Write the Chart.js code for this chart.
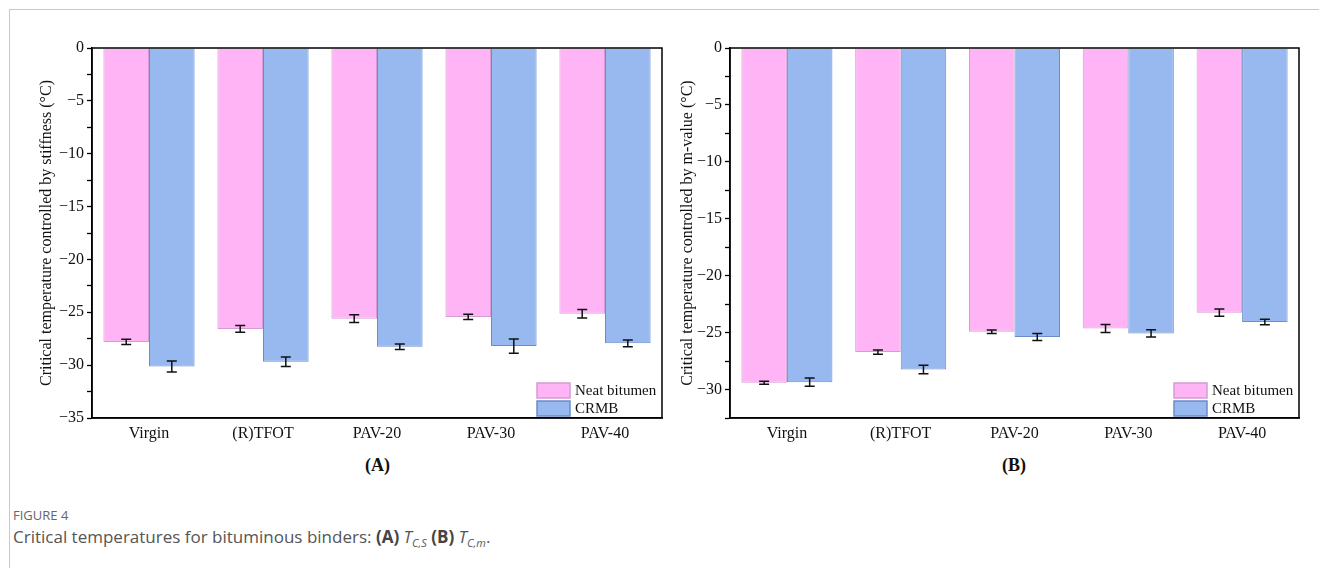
<!DOCTYPE html>
<html lang="en">
<head>
    <meta charset="UTF-8">
    <title>Critical temperatures for bituminous binders</title>
    <script src="https://cdn.jsdelivr.net/npm/chart.js"></script>
    <style>
body {
    margin: 0;
    background: #fff;
    width: 1319px;
    height: 568px;
    overflow: hidden;
    position: relative;
    font-family: "Liberation Serif", serif;
}
.frame {
    position: absolute;
    left: 9px;
    top: 9px;
    right: -2px;
    bottom: -2px;
    border-left: 1px solid #c8c8c8;
    border-top: 1px solid #c8c8c8;
}
canvas { position: absolute; top: 0; }
#chartA { left: 0; }
#chartB { left: 640px; }
.panel {
    position: absolute;
    top: 455px;
    font-weight: bold;
    font-size: 18px;
    color: #111;
}
.fig {
    position: absolute;
    left: 13px;
    top: 506px;
    font-family: "Open Sans", sans-serif;
    font-size: 13px;
    color: #666;
}
.caption {
    position: absolute;
    left: 13px;
    top: 525px;
    font-family: "Open Sans", sans-serif;
    font-size: 17px;
    color: #555;
}
.caption b { color: #444; }
.caption i { font-style: italic; }
.caption sub { font-size: 11px; }
    </style>
</head>
<body>
    <div class="frame"></div>
    <canvas id="chartA" width="680" height="450"></canvas>
    <canvas id="chartB" width="679" height="450"></canvas>
    <div class="panel" style="left:365px">(A)</div>
    <div class="panel" style="left:1002px">(B)</div>
    <div class="fig">FIGURE 4</div>
    <div class="caption">Critical temperatures for bituminous binders: <b>(A)</b> <i>T<sub>C,S</sub></i> <b>(B)</b> <i>T<sub>C,m</sub></i>.</div>
    <script>
// data
const categories = ['Virgin', '(R)TFOT', 'PAV-20', 'PAV-30', 'PAV-40'];
const seriesNames = ['Neat bitumen', 'CRMB'];

const stiffNeat = [-27.8, -26.58, -25.6, -25.44, -25.13];
const stiffNeatErr = [0.24, 0.32, 0.36, 0.25, 0.4];
const stiffCrmb = [-30.13, -29.68, -28.26, -28.2, -27.94];
const stiffCrmbErr = [0.52, 0.46, 0.25, 0.68, 0.32];

const mNeat = [-29.41, -26.71, -24.92, -24.63, -23.25];
const mNeatErr = [0.13, 0.19, 0.16, 0.35, 0.32];
const mCrmb = [-29.35, -28.24, -25.39, -25.07, -24.07];
const mCrmbErr = [0.37, 0.37, 0.31, 0.32, 0.25];

const pinkFill = '#ffb4f6';
const pinkLine = '#d49cd2';
const blueFill = '#97b9ef';
const blueLine = '#6b8cc6';
const serif = '"Liberation Serif", "Times New Roman", serif';

// error bars, box frame and legend drawn on top of the bars
const extras = {
    id: 'extras',
    afterDatasetsDraw(chart) {
        const ctx = chart.ctx;
        const y = chart.scales.y;
        const area = chart.chartArea;
        ctx.save();
        ctx.strokeStyle = '#111';
        ctx.lineWidth = 1.5;
        chart.data.datasets.forEach((ds, i) => {
            const meta = chart.getDatasetMeta(i);
            meta.data.forEach((bar, j) => {
                const v = ds.data[j], e = ds.errors[j];
                const y1 = y.getPixelForValue(v + e);
                const y2 = y.getPixelForValue(v - e);
                ctx.beginPath();
                ctx.moveTo(bar.x, y1); ctx.lineTo(bar.x, y2);
                ctx.moveTo(bar.x - 5, y1); ctx.lineTo(bar.x + 5, y1);
                ctx.moveTo(bar.x - 5, y2); ctx.lineTo(bar.x + 5, y2);
                ctx.stroke();
            });
        });
        // frame
        ctx.lineWidth = 1.5;
        ctx.strokeStyle = '#000';
        ctx.strokeRect(area.left, area.top, area.right - area.left, area.bottom - area.top);
        // legend in lower right corner
        const bw = 33, bh = 15, textW = 86;
        let lx = area.right - textW - bw - 6;
        let ly = area.bottom - 2 - bh * 2 - 3;
        ctx.font = '15px ' + serif;
        ctx.textBaseline = 'middle';
        chart.data.datasets.forEach((ds, i) => {
            const by = ly + i * (bh + 3);
            ctx.fillStyle = ds.backgroundColor;
            ctx.fillRect(lx, by, bw, bh);
            ctx.lineWidth = 1.5;
            ctx.strokeStyle = ds.borderColor;
            ctx.strokeRect(lx, by, bw, bh);
            ctx.fillStyle = '#111';
            ctx.fillText(ds.label, lx + bw + 5, by + bh / 2 + 1);
        });
        ctx.restore();
    }
};

function makeChart(id, neat, neatErr, crmb, crmbErr, yMin, title, padLeft, axisW, padRight) {
    const ctx = document.getElementById(id).getContext('2d');
    return new Chart(ctx, {
        type: 'bar',
        data: {
            labels: categories,
            datasets: [
                { label: seriesNames[0], data: neat, errors: neatErr,
                  backgroundColor: pinkFill, borderColor: pinkLine, borderWidth: 1 },
                { label: seriesNames[1], data: crmb, errors: crmbErr,
                  backgroundColor: blueFill, borderColor: blueLine, borderWidth: 1 }
            ]
        },
        options: {
            responsive: false,
            animation: false,
            layout: { padding: { left: padLeft, right: padRight, top: 48, bottom: 0 } },
            plugins: { legend: { display: false }, tooltip: { enabled: false } },
            datasets: { bar: { barPercentage: 1, categoryPercentage: 0.8 } },
            scales: {
                x: {
                    grid: { display: false, drawTicks: false },
                    border: { color: '#000', width: 1.5 },
                    ticks: { color: '#111', font: { family: serif, size: 16 }, padding: 6 },
                    afterFit(s) { s.height = 32; }
                },
                y: {
                    min: yMin,
                    max: 0,
                    grid: { drawOnChartArea: false, drawTicks: true, tickLength: 5, tickColor: '#000', tickWidth: 1.3 },
                    border: { color: '#000', width: 1.5 },
                    ticks: {
                        stepSize: 2.5,
                        color: '#111',
                        font: { family: serif, size: 16 },
                        padding: 3,
                        callback: v => (v % 5 === 0 ? (v < 0 ? '\u2212' + Math.abs(v) : '0') : '')
                    },
                    title: { display: true, text: title, color: '#111', font: { family: serif, size: 16 }, padding: 0 },
                    afterFit(s) { s.width = axisW; }
                }
            }
        },
        plugins: [extras]
    });
}

makeChart('chartA', stiffNeat, stiffNeatErr, stiffCrmb, stiffCrmbErr, -35,
    'Critical temperature controlled by stiffness (\u00B0C)', 37, 55, 18);
makeChart('chartB', mNeat, mNeatErr, mCrmb, mCrmbErr, -32.5,
    'Critical temperature controlled by m-value (\u00B0C)', 38, 52, 20);
    </script>
</body>
</html>
